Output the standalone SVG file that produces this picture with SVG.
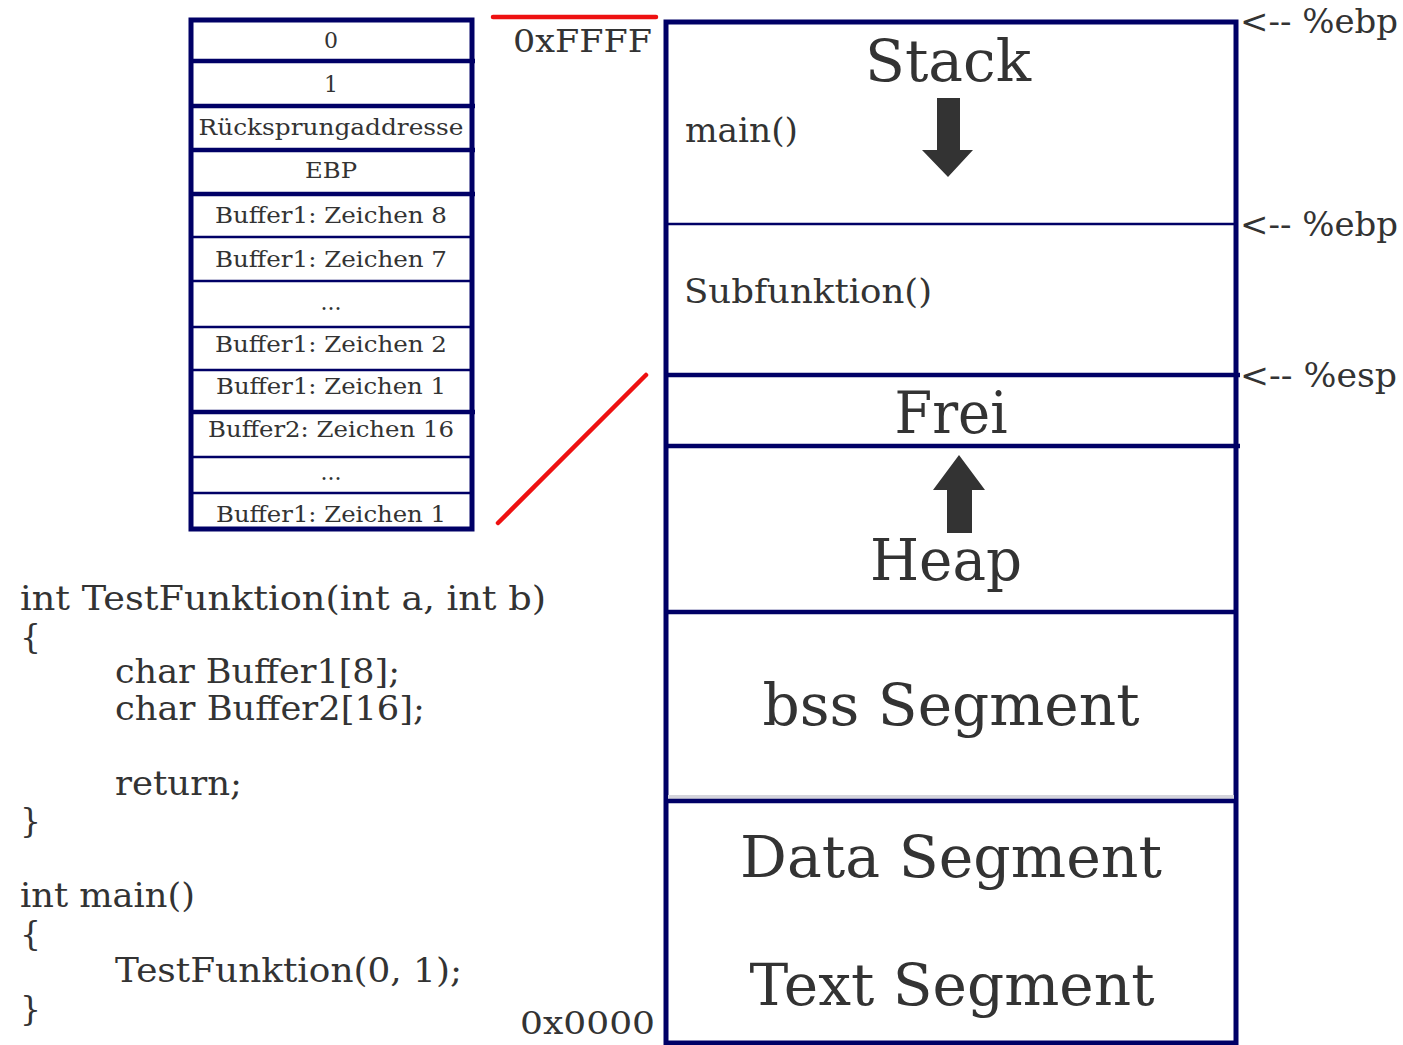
<svg xmlns="http://www.w3.org/2000/svg" width="1403" height="1045" viewBox="0 0 1403 1045">
  <style>
    .t { font-family: "DejaVu Serif", "Liberation Serif", serif; fill: #333333; }
    .cell { font-size: 22px; text-anchor: middle; }
    .seg { font-size: 58px; text-anchor: middle; }
    .lbl { font-size: 34px; }
    .code { font-size: 33px; }
    .addr { font-size: 32px; }
    .frame { fill: #ffffff; stroke: #000066; stroke-width: 5; }
    .thick { stroke: #000066; stroke-width: 4.5; }
    .thin { stroke: #000066; stroke-width: 2.5; }
    .red { stroke: #ee1111; stroke-width: 4.5; stroke-linecap: round; }
    .arrow { fill: #333333; }
  </style>

  <rect width="1403" height="1045" fill="#ffffff"/>

  <!-- stack frame of TestFunktion -->
  <g id="stack-frame">
    <rect class="frame" x="191" y="20" width="281" height="509"/>
    <line class="thick" x1="191" y1="61" x2="475" y2="61"/>
    <line class="thick" x1="191" y1="106" x2="475" y2="106"/>
    <line class="thick" x1="191" y1="150" x2="475" y2="150"/>
    <line class="thick" x1="191" y1="194" x2="475" y2="194"/>
    <line class="thin" x1="191" y1="237" x2="472" y2="237"/>
    <line class="thin" x1="191" y1="281" x2="472" y2="281"/>
    <line class="thin" x1="191" y1="327" x2="472" y2="327"/>
    <line class="thin" x1="191" y1="370" x2="472" y2="370"/>
    <line class="thick" x1="191" y1="412" x2="475" y2="412"/>
    <line class="thin" x1="191" y1="457" x2="472" y2="457"/>
    <line class="thin" x1="191" y1="493" x2="472" y2="493"/>

    <text class="t cell" x="331" y="48">0</text>
    <text class="t cell" x="331" y="92">1</text>
    <text class="t cell" x="331" y="135" textLength="265" lengthAdjust="spacingAndGlyphs">Rücksprungaddresse</text>
    <text class="t cell" x="331" y="178" textLength="52" lengthAdjust="spacingAndGlyphs">EBP</text>
    <text class="t cell" x="331" y="223" textLength="232" lengthAdjust="spacingAndGlyphs">Buffer1: Zeichen 8</text>
    <text class="t cell" x="331" y="267" textLength="232" lengthAdjust="spacingAndGlyphs">Buffer1: Zeichen 7</text>
    <text class="t cell" x="331" y="310">...</text>
    <text class="t cell" x="331" y="352" textLength="232" lengthAdjust="spacingAndGlyphs">Buffer1: Zeichen 2</text>
    <text class="t cell" x="331" y="394" textLength="230" lengthAdjust="spacingAndGlyphs">Buffer1: Zeichen 1</text>
    <text class="t cell" x="331" y="437" textLength="246" lengthAdjust="spacingAndGlyphs">Buffer2: Zeichen 16</text>
    <text class="t cell" x="331" y="480">...</text>
    <text class="t cell" x="331" y="522" textLength="230" lengthAdjust="spacingAndGlyphs">Buffer1: Zeichen 1</text>
  </g>

  <!-- zoom lines from the stack frame to the memory layout -->
  <g id="connectors">
    <line class="red" x1="493" y1="17" x2="656" y2="17"/>
    <line class="red" x1="498" y1="523" x2="646" y2="375"/>
  </g>

  <!-- address labels -->
  <g id="addresses">
    <text class="t addr" x="513" y="52" textLength="139" lengthAdjust="spacingAndGlyphs">0xFFFF</text>
    <text class="t addr" x="520" y="1034" textLength="135" lengthAdjust="spacingAndGlyphs">0x0000</text>
  </g>

  <!-- process memory layout -->
  <g id="memory">
    <rect class="frame" x="666" y="22" width="570" height="1021"/>
    <line class="thin" x1="666" y1="224" x2="1238" y2="224" stroke-width="3"/>
    <line class="thick" x1="666" y1="375" x2="1240" y2="375" stroke-width="5"/>
    <line class="thick" x1="666" y1="446" x2="1240" y2="446" stroke-width="5"/>
    <line class="thick" x1="666" y1="612" x2="1238" y2="612" stroke-width="5"/>
    <line x1="668" y1="797" x2="1234" y2="797" stroke="#d4d4dc" stroke-width="4"/>
    <line class="thick" x1="666" y1="801" x2="1238" y2="801" stroke-width="5"/>
  </g>

  <g id="stack">
    <text class="t seg" x="948" y="81" textLength="166" lengthAdjust="spacingAndGlyphs">Stack</text>
    <polygon class="arrow" points="937,98 960,98 960,150 973,150 948,177 922,150 937,150"/>
    <text class="t lbl" x="685" y="142" textLength="113" lengthAdjust="spacingAndGlyphs">main()</text>
  </g>

  <g id="subfunktion">
    <text class="t lbl" x="684" y="303" textLength="248" lengthAdjust="spacingAndGlyphs">Subfunktion()</text>
  </g>

  <g id="frei">
    <text class="t seg" x="951" y="433" textLength="113" lengthAdjust="spacingAndGlyphs">Frei</text>
  </g>

  <g id="heap">
    <polygon class="arrow" points="959,455 985,490 972,490 972,533 947,533 947,490 933,490"/>
    <text class="t seg" x="946" y="580" textLength="152" lengthAdjust="spacingAndGlyphs">Heap</text>
  </g>

  <g id="bss">
    <text class="t seg" x="951" y="725" textLength="377" lengthAdjust="spacingAndGlyphs">bss Segment</text>
  </g>

  <g id="data-text">
    <text class="t seg" x="951" y="877" textLength="422" lengthAdjust="spacingAndGlyphs">Data Segment</text>
    <text class="t seg" x="952" y="1005" textLength="405" lengthAdjust="spacingAndGlyphs">Text Segment</text>
  </g>

  <!-- register pointers -->
  <g id="registers">
    <text class="t lbl" x="1240" y="33" textLength="158" lengthAdjust="spacingAndGlyphs">&lt;-- %ebp</text>
    <text class="t lbl" x="1240" y="236" textLength="158" lengthAdjust="spacingAndGlyphs">&lt;-- %ebp</text>
    <text class="t lbl" x="1240" y="387" textLength="157" lengthAdjust="spacingAndGlyphs">&lt;-- %esp</text>
  </g>

  <!-- C source -->
  <g id="source">
    <text class="t code" x="20" y="610" textLength="526" lengthAdjust="spacingAndGlyphs">int TestFunktion(int a, int b)</text>
    <text class="t code" x="20" y="648">{</text>
    <text class="t code" x="115" y="683" textLength="285" lengthAdjust="spacingAndGlyphs">char Buffer1[8];</text>
    <text class="t code" x="115" y="720" textLength="310" lengthAdjust="spacingAndGlyphs">char Buffer2[16];</text>
    <text class="t code" x="115" y="795" textLength="127" lengthAdjust="spacingAndGlyphs">return;</text>
    <text class="t code" x="20" y="832">}</text>
    <text class="t code" x="20" y="907" textLength="175" lengthAdjust="spacingAndGlyphs">int main()</text>
    <text class="t code" x="20" y="945">{</text>
    <text class="t code" x="115" y="982" textLength="347" lengthAdjust="spacingAndGlyphs">TestFunktion(0, 1);</text>
    <text class="t code" x="20" y="1020">}</text>
  </g>
</svg>
